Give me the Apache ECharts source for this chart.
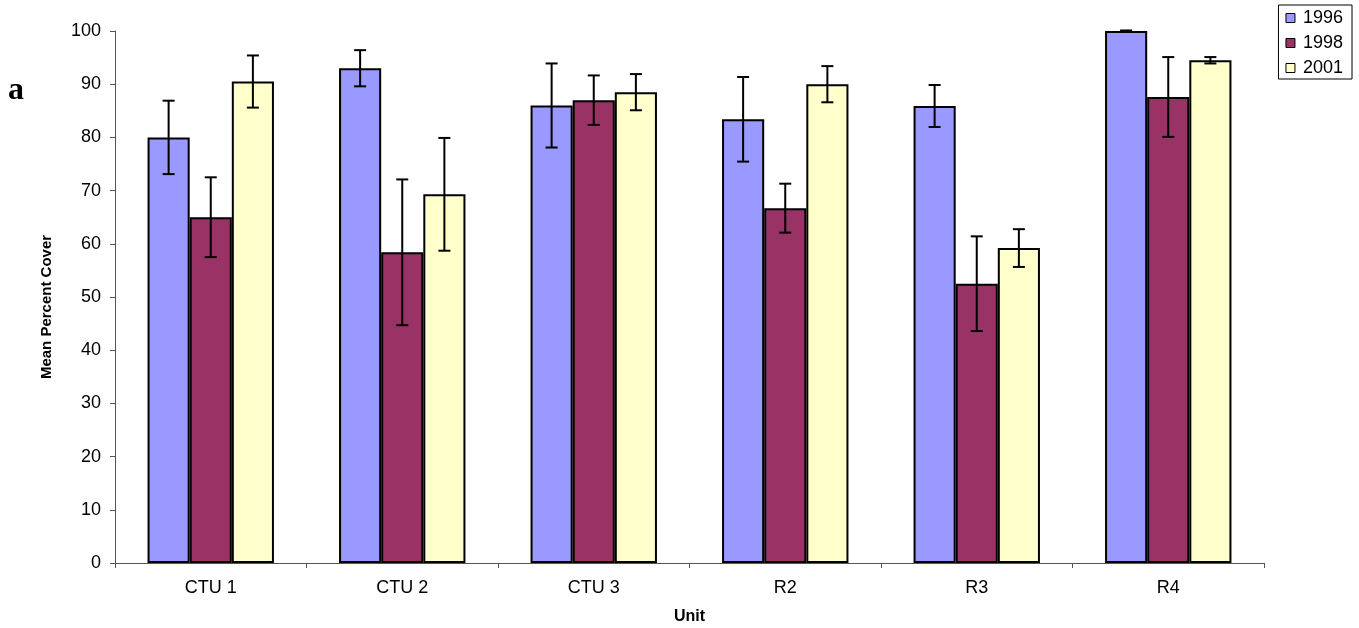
<!DOCTYPE html>
<html>
<head>
<meta charset="utf-8">
<script src="https://cdn.jsdelivr.net/npm/echarts@6/dist/echarts.min.js"></script>
<style>
html,body{margin:0;padding:0;background:#fff;}
#chart{width:1359px;height:628px;position:relative;}
#tag{position:absolute;left:8px;top:70px;font-family:"Liberation Serif","Times New Roman",serif;font-weight:bold;font-size:32px;color:#000;}
</style>
</head>
<body>
<div id="chart"></div>
<div id="tag">a</div>
<script>
const categories = ['CTU 1', 'CTU 2', 'CTU 3', 'R2', 'R3', 'R4'];
const seriesNames = ['1996', '1998', '2001'];
const v1996 = [80, 93, 86, 83.4, 85.9, 100];
const e1996 = [6.9, 3.4, 7.9, 7.95, 3.95, 0.1];
const v1998 = [65, 58.4, 87, 66.7, 52.5, 87.6];
const e1998 = [7.5, 13.7, 4.65, 4.6, 8.9, 7.5];
const v2001 = [90.5, 69.3, 88.5, 90, 59.2, 94.5];
const e2001 = [4.9, 10.6, 3.4, 3.4, 3.55, 0.6];
const yTicks = [0, 10, 20, 30, 40, 50, 60, 70, 80, 90, 100];

const values = [v1996, v1998, v2001];
const errors = [e1996, e1998, e2001];
const colors = ['#9999FF', '#993366', '#FFFFCC'];
const catGap = 0.34;

const chart = echarts.init(document.getElementById('chart'), null, {renderer: 'canvas'});

const barSeries = seriesNames.map((n, i) => ({
  name: n,
  type: 'bar',
  data: values[i],
  barGap: '0%',
  barCategoryGap: (catGap * 100) + '%',
  itemStyle: {color: colors[i], borderColor: '#000', borderWidth: 2},
  emphasis: {disabled: true},
  z: 2
}));

const errSeries = seriesNames.map((n, i) => ({
  name: 'err' + n,
  type: 'custom',
  data: values[i].map((v, k) => [k, v, errors[i][k]]),
  z: 5,
  silent: true,
  clip: false,
  renderItem: function (params, api) {
    const k = api.value(0), v = api.value(1), e = api.value(2);
    const band = api.size([1, 0])[0];
    const bw = band * (1 - catGap) / 3;
    const off = (i - 1) * bw;
    const hi = api.coord([k, v + e]);
    const lo = api.coord([k, v - e]);
    const x = hi[0] + off;
    const cap = 6;
    const style = {stroke: '#000', lineWidth: 2};
    return {
      type: 'group',
      children: [
        {type: 'line', shape: {x1: x, y1: hi[1], x2: x, y2: lo[1]}, style: style},
        {type: 'line', shape: {x1: x - cap, y1: hi[1], x2: x + cap, y2: hi[1]}, style: style},
        {type: 'line', shape: {x1: x - cap, y1: lo[1], x2: x + cap, y2: lo[1]}, style: style}
      ]
    };
  }
}));

const option = {
  animation: false,
  backgroundColor: '#fff',
  textStyle: {fontFamily: 'Liberation Sans, Arial, sans-serif', color: '#000'},
  grid: {left: 115, right: 95, top: 31, bottom: 65, containLabel: false, outerBoundsMode: 'none'},
  legend: {
    data: seriesNames,
    orient: 'vertical',
    right: 7,
    top: 5,
    icon: 'rect',
    itemWidth: 9,
    itemHeight: 9,
    itemGap: 7,
    padding: [4, 9, 2, 7],
    borderColor: '#000',
    borderWidth: 1,
    backgroundColor: '#fff',
    selectedMode: false,
    itemStyle: {borderColor: '#000', borderWidth: 1},
    textStyle: {fontSize: 18, lineHeight: 18, color: '#000', fontFamily: 'Liberation Sans, Arial, sans-serif', padding: [0, 0, 0, 3]}
  },
  xAxis: {
    type: 'category',
    data: categories,
    name: 'Unit',
    nameLocation: 'middle',
    nameGap: 46,
    nameTextStyle: {fontSize: 16, fontWeight: 'bold', color: '#000'},
    axisLine: {show: true, lineStyle: {color: '#555', width: 1}},
    axisTick: {show: true, length: 5, lineStyle: {color: '#555'}},
    axisLabel: {fontSize: 18, color: '#000', margin: 16}
  },
  yAxis: {
    type: 'value',
    min: 0,
    max: 100,
    interval: 10,
    name: 'Mean Percent Cover',
    nameLocation: 'middle',
    nameGap: 61,
    nameRotate: 90,
    nameTextStyle: {fontSize: 15, fontWeight: 'bold', color: '#000', padding: [0, 20, 0, 0]},
    splitLine: {show: false},
    axisLine: {show: true, lineStyle: {color: '#555', width: 1}},
    axisTick: {show: true, length: 5, lineStyle: {color: '#555'}},
    axisLabel: {
      fontSize: 18, color: '#000', margin: 14,
      formatter: function (val) { return yTicks.indexOf(val) >= 0 ? String(val) : ''; }
    }
  },
  series: barSeries.concat(errSeries)
};
chart.setOption(option);
</script>
</body>
</html>
